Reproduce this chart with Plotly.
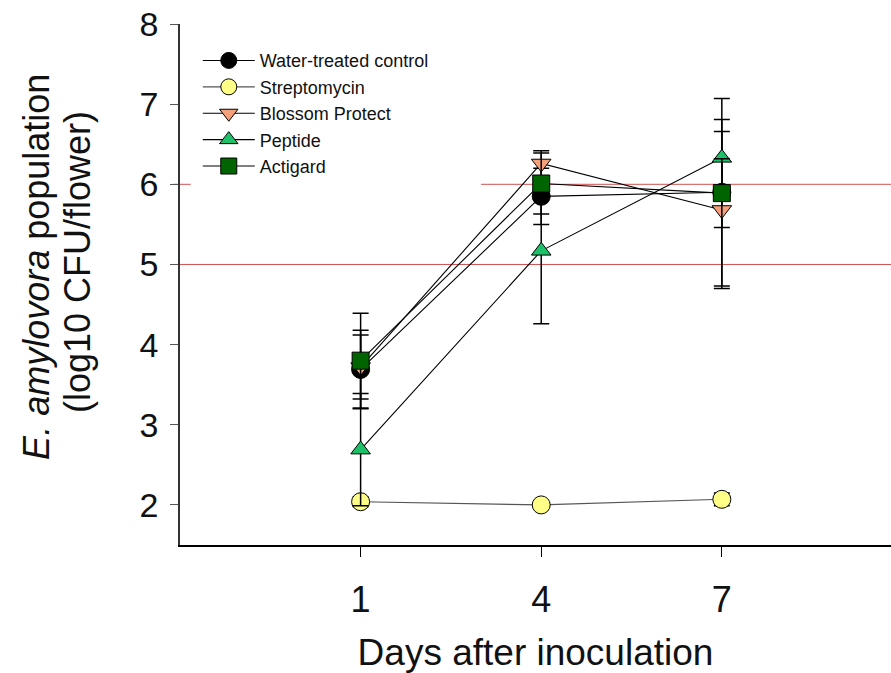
import plotly.graph_objects as go

# Sampling days
days = [1, 4, 7]

# Mean population (log10 CFU/flower) and error for each treatment
water_mean = [3.69, 5.85, 5.90]
water_err = [0.49, 0.35, 1.17]

strep_mean = [2.04, 2.00, 2.07]
strep_err = [0.06, 0.02, 0.08]

blossom_mean = [3.72, 6.26, 5.68]
blossom_err = [0.40, 0.16, 0.98]

peptide_mean = [2.69, 5.17, 6.33]
peptide_err = [0.70, 0.91, 0.48]

actigard_mean = [3.80, 6.01, 5.89]
actigard_err = [0.59, 0.38, 0.43]

x_ticks = [1, 4, 7]
y_ticks = [2, 3, 4, 5, 6, 7, 8]

FONT = "Liberation Sans, Arial, sans-serif"
TXT = "#111111"

series = [
    ("Water-treated control", water_mean, water_err, "circle", "#000000", "#000000"),
    ("Streptomycin", strep_mean, strep_err, "circle", "#ffff88", "#555555"),
    ("Blossom Protect", blossom_mean, blossom_err, "triangle-down", "#f4a07a", "#000000"),
    ("Peptide", peptide_mean, peptide_err, "triangle-up", "#1fc06a", "#000000"),
    ("Actigard", actigard_mean, actigard_err, "square", "#006400", "#000000"),
]

fig = go.Figure()
for name, mean, err, sym, fill, linec in series:
    fig.add_trace(go.Scatter(
        x=days, y=mean, name=name, mode="lines+markers",
        line=dict(color=linec, width=1.1),
        marker=dict(symbol=sym, size=18 if sym == "circle" else 17,
                    color=fill, line=dict(color="#000000", width=1)),
        error_y=dict(type="data", array=err, visible=True,
                     color="#000000", thickness=1.5, width=8),
    ))

# reference lines at 5 and 6 log units
RED = "#d05050"
fig.add_shape(type="line", xref="paper", yref="y", x0=-0.01, x1=1, y0=5, y1=5,
              line=dict(color=RED, width=1), layer="below")
fig.add_shape(type="line", xref="paper", yref="y", x0=-0.01, x1=0.015, y0=6, y1=6,
              line=dict(color=RED, width=1), layer="below")
fig.add_shape(type="line", xref="x", yref="y", x0=3.0, x1=9.81, y0=6, y1=6,
              line=dict(color=RED, width=1), layer="below")

# two-line y-axis title
fig.add_annotation(text="<i>E. amylovora</i> population", xref="paper", yref="paper",
                   x=-0.201, y=0.534, xanchor="center", yanchor="middle",
                   textangle=-90, showarrow=False,
                   font=dict(size=36, family=FONT, color=TXT))
fig.add_annotation(text="(log10 CFU/flower)", xref="paper", yref="paper",
                   x=-0.145, y=0.543, xanchor="center", yanchor="middle",
                   textangle=-90, showarrow=False,
                   font=dict(size=36, family=FONT, color=TXT))

fig.update_layout(
    width=891, height=673,
    margin=dict(l=180, r=0, t=24, b=128),
    paper_bgcolor="white", plot_bgcolor="white",
    font=dict(family=FONT, color=TXT),
    showlegend=True,
    legend=dict(x=0.025, y=0.965, xanchor="left", yanchor="top",
                bgcolor="rgba(255,255,255,0)", font=dict(size=18, family=FONT, color=TXT),
                tracegroupgap=0, itemsizing="trace", itemwidth=52),
    xaxis=dict(range=[-2, 9.81], tickvals=x_ticks, ticktext=[str(v) for v in x_ticks],
               showline=True, linecolor="#000000", linewidth=1.5,
               ticks="outside", ticklen=10, tickwidth=1.2, tickcolor="#000000",
               tickfont=dict(size=36, family=FONT, color=TXT),
               ticklabelstandoff=12,
               showgrid=False, zeroline=False,
               title=dict(text="Days after inoculation", font=dict(size=37, family=FONT, color=TXT),
                          standoff=22)),
    yaxis=dict(range=[1.5, 8], tickvals=y_ticks,
               showline=True, linecolor="#333333", linewidth=1.5,
               ticks="outside", ticklen=8, tickwidth=1.2, tickcolor="#555555",
               tickfont=dict(size=34, family=FONT, color=TXT),
               ticklabelstandoff=5,
               showgrid=False, zeroline=False),
)

fig.write_html("out.html")
